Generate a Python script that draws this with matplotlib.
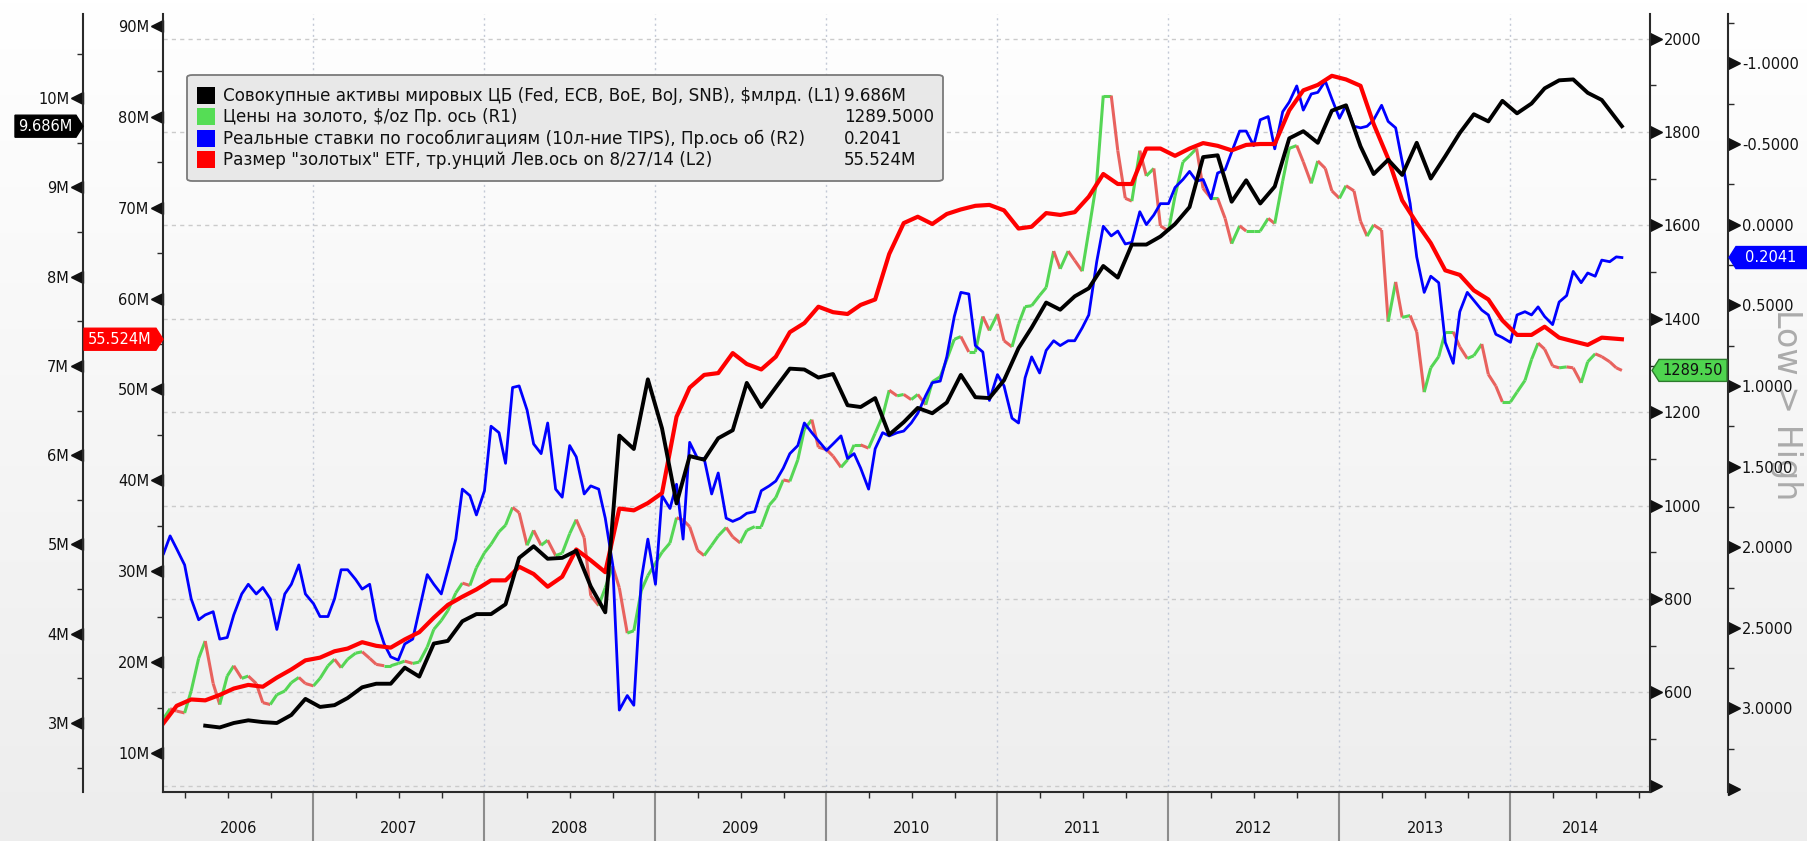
import numpy as np
import pandas as pd
import matplotlib
matplotlib.use('Agg')
import matplotlib.pyplot as plt
import matplotlib.transforms as mtransforms
from matplotlib.collections import LineCollection
from matplotlib.colors import LinearSegmentedColormap
from matplotlib.patches import Polygon, FancyBboxPatch, Rectangle

plt.rcParams['font.family'] = ['DejaVu Sans']

# time axes: gold / TIPS read twice a month, ETF / CB assets once a month
semi_dates = pd.date_range('2006-02-15', '2014-08-15', freq='SMS').append(pd.DatetimeIndex(['2014-08-27']))
month_dates = (pd.date_range('2006-02-01', '2014-07-01', freq='MS') + pd.Timedelta(days=14)).append(pd.DatetimeIndex(['2014-08-27']))

# gold, $/oz (R1)
gold = [544, 565, 560, 556, 603, 673, 710, 619, 574, 635,
        657, 630, 635, 619, 578, 574, 595, 603, 621, 632,
        619, 614, 630, 657, 671, 653, 671, 684, 687, 673,
        660, 657, 657, 662, 667, 662, 665, 697, 735, 754,
        775, 813, 834, 829, 867, 899, 917, 944, 958, 996,
        985, 915, 947, 915, 926,
        893, 898, 940, 970, 931, 807, 786, 824, 870, 824,
        727, 732, 818, 850, 877, 900, 920, 974, 969, 955,
        904, 893, 915, 935, 953, 933, 920, 947, 955, 955,
        1001, 1017, 1055, 1052, 1098, 1163, 1184, 1125, 1120, 1106,
        1082, 1098, 1130, 1130, 1123, 1155, 1192, 1247, 1235, 1238,
        1227, 1238,
        1216, 1265, 1276, 1313, 1356, 1362, 1329, 1329, 1405, 1375,
        1410, 1353, 1340, 1389, 1426, 1428, 1450, 1467, 1545, 1507,
        1545, 1525, 1502, 1588, 1695, 1878, 1878, 1760, 1658, 1652,
        1760, 1706, 1722, 1599, 1588, 1663, 1736, 1749, 1765, 1679,
        1658, 1658, 1615, 1561, 1599, 1588, 1588, 1588, 1615, 1604,
        1695, 1765,
        1771, 1736, 1690, 1738, 1722, 1674, 1658, 1685, 1674, 1609,
        1577, 1601, 1590, 1394, 1479, 1403, 1407, 1372, 1243, 1295,
        1319, 1372, 1372, 1340, 1315, 1321, 1346, 1281, 1256, 1222,
        1222, 1243, 1268, 1313, 1348, 1335, 1299, 1295, 1297, 1295,
        1263, 1308, 1325, 1319, 1308, 1295, 1289.5]

# 10y TIPS real yield, % (R2, inverted)
tips = [2.04, 1.93, 2.01, 2.11, 2.32, 2.45, 2.42, 2.40, 2.57, 2.56,
        2.42, 2.29, 2.23, 2.29, 2.25, 2.32, 2.51, 2.29, 2.23, 2.11,
        2.29, 2.35, 2.43, 2.43, 2.32, 2.14, 2.14, 2.20, 2.26, 2.23,
        2.45, 2.60, 2.68, 2.70, 2.60, 2.57, 2.39, 2.17, 2.23, 2.29,
        2.14, 1.95, 1.64, 1.68, 1.80, 1.65, 1.25, 1.29, 1.48, 1.01,
        1.00, 1.15, 1.36, 1.42, 1.23,
        1.64, 1.69, 1.37, 1.44, 1.67, 1.62, 1.64, 1.82, 2.11, 3.01,
        2.92, 2.98, 2.20, 1.95, 2.23, 1.68, 1.76, 1.61, 1.95, 1.35,
        1.45, 1.45, 1.67, 1.54, 1.82, 1.84, 1.82, 1.79, 1.78, 1.65,
        1.62, 1.59, 1.51, 1.42, 1.37, 1.23, 1.29, 1.34, 1.40, 1.36,
        1.31, 1.45, 1.42, 1.51, 1.64, 1.39, 1.29, 1.31, 1.29, 1.28,
        1.23, 1.17,
        1.06, 0.98, 0.97, 0.82, 0.57, 0.42, 0.43, 0.75, 0.79, 1.09,
        0.93, 1.00, 1.20, 1.23, 0.95, 0.82, 0.92, 0.78, 0.72, 0.75,
        0.72, 0.72, 0.64, 0.56, 0.23, 0.01, 0.07, 0.04, 0.12, 0.11,
        -0.08, 0.00, -0.06, -0.13, -0.13, -0.23, -0.28, -0.33, -0.27, -0.28,
        -0.16, -0.32, -0.34, -0.45, -0.58, -0.58, -0.49, -0.65, -0.67, -0.47,
        -0.70, -0.76,
        -0.86, -0.71, -0.81, -0.82, -0.89, -0.78, -0.66, -0.74, -0.61, -0.60,
        -0.61, -0.65, -0.74, -0.64, -0.60, -0.39, -0.13, 0.20, 0.42, 0.32,
        0.36, 0.73, 0.86, 0.54, 0.42, 0.47, 0.53, 0.56, 0.68, 0.70,
        0.73, 0.56, 0.54, 0.56, 0.51, 0.57, 0.62, 0.48, 0.44, 0.29,
        0.36, 0.30, 0.32, 0.22, 0.23, 0.20, 0.2041]

# gold ETF holdings, mln oz (L2)
etf = [13.3, 15.2, 15.9, 15.8, 16.4, 17.1, 17.5, 17.3, 18.3, 19.2,
       20.2, 20.5, 21.2, 21.5, 22.2, 21.8, 21.6, 22.5, 23.3, 24.9,
       26.3, 27.2, 28.0, 29.0, 29.0, 30.5, 29.7, 28.3, 29.4, 32.4,
       31.2, 29.9, 36.9, 36.7, 37.5, 38.6, 47.0, 50.2, 51.6, 51.8,
       54.0, 52.8, 52.2, 53.6, 56.3, 57.3, 59.1, 58.5, 58.3, 59.3,
       59.9, 64.9, 68.3, 69.0, 68.2, 69.3, 69.8, 70.2, 70.3, 69.7,
       67.7, 67.9, 69.4, 69.2, 69.5, 71.2, 73.7, 72.6, 72.6, 76.5,
       76.5, 75.7, 76.5, 77.1, 76.8, 76.3, 76.9, 77.0, 77.0, 80.7,
       82.9, 83.5, 84.5, 84.1, 83.4, 79.2, 75.4, 70.8, 68.3, 66.1,
       63.1, 62.6, 60.9, 59.9, 57.6, 56.0, 56.0, 56.9, 55.7, 55.3,
       54.9, 55.7, 55.524]

# central bank assets, M (L1)
cb_assets = [np.nan, np.nan, np.nan, 2.97,
             2.95, 3.00, 3.03, 3.01, 3.00, 3.09, 3.27, 3.18, 3.20, 3.28,
             3.40, 3.44, 3.44, 3.62, 3.52, 3.89, 3.92, 4.14, 4.22, 4.22,
             4.33, 4.85, 4.98, 4.84, 4.85, 4.93, 4.53, 4.24, 6.22, 6.07,
             6.85, 6.30, 5.46, 5.99, 5.95, 6.19, 6.28, 6.81, 6.54, 6.76,
             6.97, 6.96, 6.87, 6.91, 6.56, 6.54, 6.64, 6.23, 6.37, 6.53,
             6.47, 6.59, 6.90, 6.65, 6.64, 6.84, 7.20, 7.43, 7.71, 7.63,
             7.78, 7.87, 8.12, 7.99, 8.36, 8.36, 8.45, 8.59, 8.78, 9.34,
             9.36, 8.84, 9.08, 8.82, 9.01, 9.55, 9.63, 9.50, 9.86, 9.92,
             9.46, 9.15, 9.31, 9.14, 9.50, 9.10, 9.35, 9.61, 9.82, 9.74,
             9.97, 9.83, 9.94, 10.11, 10.20, 10.21, 10.06, 9.98, 9.686]

years = [2006, 2007, 2008, 2009, 2010, 2011, 2012, 2013, 2014]
l1_ticks = [3, 4, 5, 6, 7, 8, 9, 10]
l2_ticks = [10, 20, 30, 40, 50, 60, 70, 80, 90]
r1_ticks = [400, 600, 800, 1000, 1200, 1400, 1600, 1800, 2000]
r2_ticks = [-1.0, -0.5, 0.0, 0.5, 1.0, 1.5, 2.0, 2.5, 3.0, 3.5]

legend_labels = ['Совокупные активы мировых ЦБ (Fed, ECB, BoE, BoJ, SNB), $млрд. (L1)',
                 'Цены на золото, $/oz Пр. ось (R1)',
                 'Реальные ставки по гособлигациям (10л-ние TIPS), Пр.ось об (R2)',
                 'Размер "золотых" ETF, тр.унций Лев.ось on 8/27/14 (L2)']
legend_values = ['9.686M', '1289.5000', '0.2041', '55.524M']


def dec_year(idx):
    return np.asarray(idx.year + (idx.dayofyear - 1) / 365.25, dtype=float)


xs = dec_year(semi_dates)
xm = dec_year(month_dates)
gold = np.array(gold, dtype=float)

W, H = 1807, 841
fig = plt.figure(figsize=(W / 100, H / 100), dpi=100)


def fx(px):
    return px / W


def fy(py):
    return 1 - py / H


# background gradient
bg = fig.add_axes([0, 0, 1, 1], zorder=-10)
cmap = LinearSegmentedColormap.from_list('bg', ['#ffffff', '#ededed'])
bg.imshow(np.linspace(0, 1, 256).reshape(-1, 1), aspect='auto', cmap=cmap,
          extent=[0, 1, 0, 1], origin='upper')
bg.axis('off')

plot_w = 1650 - 163
ax = fig.add_axes([fx(163), fy(792), plot_w / W, (792 - 14) / H])
ax.patch.set_visible(False)
ax_r1 = ax.twinx()
ax_r2 = ax.twinx()
ax_l1 = ax.twinx()
for a, z in [(ax_r1, 1), (ax_r2, 2), (ax, 3), (ax_l1, 4)]:
    a.set_zorder(z)
    a.patch.set_visible(False)
    for s in a.spines.values():
        s.set_visible(False)
        s.set_color('#2a2a2a')
        s.set_linewidth(1.5)

ax.spines['left'].set_visible(True)
ax.spines['bottom'].set_visible(True)
ax_r1.spines['right'].set_visible(True)
ax_r2.spines['right'].set_visible(True)
ax_r2.spines['right'].set_position(('axes', 1 + 78 / plot_w))
ax_l1.spines['left'].set_visible(True)
ax_l1.spines['left'].set_position(('axes', -80 / plot_w))
ax_l1.yaxis.tick_left()
ax_l1.yaxis.set_label_position('left')

ax.set_xlim(2006.12, 2014.816)

# grid (drawn on the lowest axes)
ax_r1.yaxis.grid(True, which='major', color='#cbcbcb', lw=1, ls=(0, (3, 3)))
for yr in years[1:]:
    ax_r1.axvline(yr, color='#c3c9d6', lw=1, ls=(0, (1.5, 2.5)), zorder=0)

# gold as up/down coloured strokes
segs = np.stack([np.column_stack([xs[:-1], gold[:-1]]),
                 np.column_stack([xs[1:], gold[1:]])], axis=1)
cols = np.where(np.diff(gold) >= 0, '#55d655', '#e8625e')
ax_r1.add_collection(LineCollection(segs, colors=cols, linewidths=2.2))

ax_r2.plot(xs, tips, color='#0000ff', lw=2.0)
ax.plot(xm, etf, color='#ff0000', lw=3.0)
ax_l1.plot(xm, cb_assets, color='#000000', lw=2.8)


def style_y(a, lim, majors, labels, minors, side, spine_x):
    a.set_ylim(*lim)
    a.set_yticks(majors)
    a.set_yticklabels(labels)
    a.set_yticks(minors, minor=True)
    a.tick_params(axis='y', which='major', length=0, pad=10, labelsize=10.5, labelcolor='#111111')
    a.tick_params(axis='y', which='minor', length=4, width=1, direction='out', color='#2a2a2a')
    trans = mtransforms.blended_transform_factory(a.transAxes, a.transData)
    off = mtransforms.offset_copy(trans, fig=fig, x=-6 if side == 'left' else 6, y=0, units='dots')
    a.plot([spine_x] * len(majors), majors, ls='none', marker='<' if side == 'left' else '>',
           ms=8.5, color='#111111', transform=off, clip_on=False)


style_y(ax, (5.72, 91.3), l2_ticks, [f'{v}M' for v in l2_ticks],
        [v + 5 for v in l2_ticks[:-1]], 'left', 0)
style_y(ax_l1, (2.227, 10.943), l1_ticks, [f'{v}M' for v in l1_ticks],
        [v - 0.5 for v in l1_ticks] + [10.5], 'left', -80 / plot_w)
style_y(ax_r1, (386.7, 2052.7), r1_ticks, [''] + [str(v) for v in r1_ticks[1:]],
        [v + 100 for v in r1_ticks[:-1]], 'right', 1)
style_y(ax_r2, (3.518, -1.306), r2_ticks, [f'{v:.4f}' for v in r2_ticks[:-1]] + [''],
        [v - 0.25 for v in r2_ticks], 'right', 1 + 78 / plot_w)

# x axis: year separators, quarter ticks, centred year labels
ax.set_xticks(years[1:])
ax.tick_params(axis='x', which='major', length=36, width=1.5, color='#8c8c8c',
               direction='out', labelbottom=False)
quarters = [y + q for y in years for q in (0.25, 0.5, 0.75) if y + q < 2014.8]
ax.set_xticks(quarters, minor=True)
ax.tick_params(axis='x', which='minor', length=4, width=1, color='#2a2a2a', direction='out')
tx = mtransforms.blended_transform_factory(ax.transData, ax.transAxes)
for yr in years:
    lo = max(yr, 2006.12)
    hi = min(yr + 1, 2014.816)
    ax.text((lo + hi) / 2, -0.0463, str(yr), transform=tx, ha='center', va='center',
            fontsize=10.5, color='#111111')


# value tags on the axes
def tag(x0, x1, yc, text, fc, tc, point, ec=None, h=22, tip=7, text_x=None):
    if point == 'right':
        pts = [(x0, yc - h / 2), (x1 - tip, yc - h / 2), (x1, yc), (x1 - tip, yc + h / 2), (x0, yc + h / 2)]
        cx = (x0 + x1 - tip) / 2
    else:
        pts = [(x0, yc), (x0 + tip, yc - h / 2), (x1, yc - h / 2), (x1, yc + h / 2), (x0 + tip, yc + h / 2)]
        cx = (x0 + tip + x1) / 2
    fig.add_artist(Polygon([(px / W, py / H) for px, py in pts], closed=True,
                           transform=fig.transFigure, fc=fc, ec=ec or fc, lw=1, zorder=20))
    if text_x is None:
        fig.text(cx / W, yc / H, text, ha='center', va='center', color=tc, fontsize=10.5, zorder=21)
    else:
        fig.text(text_x / W, yc / H, text, ha='left', va='center', color=tc, fontsize=10.5, zorder=21)


def disp_y(a, v):
    return a.transData.transform((2010.0, v))[1]


tag(15, 83, disp_y(ax_l1, cb_assets[-1]), legend_values[0], '#000000', 'white', 'right')
tag(84, 163, disp_y(ax, etf[-1]), legend_values[3], '#ff0000', 'white', 'right')
tag(1652, 1727, disp_y(ax_r1, gold[-1]), '1289.50', '#4fd44f', '#111111', 'left', ec='#2c7a2c')
tag(1729, 1812, disp_y(ax_r2, tips[-1]), legend_values[2], '#0000ff', 'white', 'left', text_x=1745)

# legend box
fig.add_artist(FancyBboxPatch((fx(187), fy(181)), (943 - 187) / W, (181 - 75) / H,
                              boxstyle='round,pad=0,rounding_size=0.003',
                              transform=fig.transFigure, fc='#e8e8e8', ec='#7a7a7a',
                              lw=1.3, zorder=15))
row_y = [95.6, 116.8, 138.5, 159.6]
row_col = ['#000000', '#55dd55', '#0000ff', '#ff0000']
for yy, c, lab, val in zip(row_y, row_col, legend_labels, legend_values):
    fig.add_artist(Rectangle((fx(197), fy(yy + 8.5)), 18 / W, 17 / H,
                             transform=fig.transFigure, fc=c, ec='none', zorder=16))
    fig.text(fx(223), fy(yy), lab, ha='left', va='center', fontsize=12.1, color='#111111', zorder=17)
    fig.text(fx(844), fy(yy), val, ha='left', va='center', fontsize=12.1, color='#111111', zorder=17)

fig.text(fx(1787), fy(405), 'Low > High', rotation=270, ha='center', va='center',
         fontsize=24, color='#ababab', zorder=0.5)

fig.savefig('out.png', dpi=100)
